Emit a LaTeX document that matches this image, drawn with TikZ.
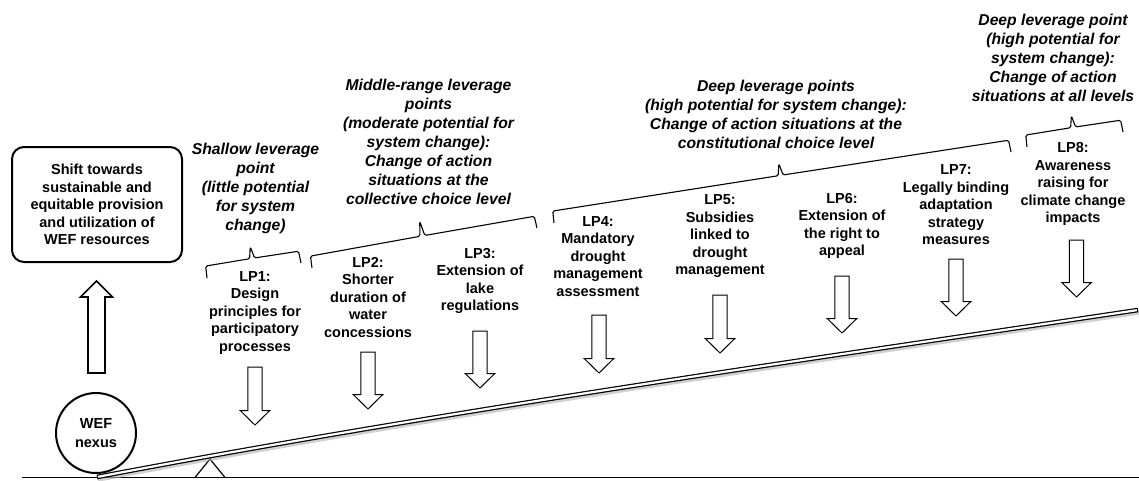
\documentclass[tikz,border=0pt]{standalone}
\usepackage{fontspec}
\setmainfont{Liberation Sans}
\usetikzlibrary{calc}

\tikzset{
  lvtext/.style={font=\fontsize{15.7}{19}\selectfont\bfseries\itshape, align=center, inner sep=0pt},
  lptext/.style={font=\fontsize{14.5}{17.5}\selectfont\bfseries, align=center, inner sep=0pt},
  blockarrow/.style={draw=black, line width=1pt, fill=white, line join=miter},
  bracepath/.style={draw=black, line width=1.1pt, rounded corners=1.5pt},
}

% downward block arrow: centre x, top y, tip y
\newcommand\dnarrow[3]{%
  \draw[blockarrow] ({#1-7.2},#2) -- ({#1+7.2},#2) -- ({#1+7.2},{#3-14.5})
    -- ({#1+14.8},{#3-14.5}) -- (#1,#3) -- ({#1-14.8},{#3-14.5})
    -- ({#1-7.2},{#3-14.5}) -- cycle;}

% curly brace along the lever: left end x, y, angle, length, tip height
\newcommand\levbrace[5]{%
  \begin{scope}[shift={(#1,#2)}, rotate=#3]
    \draw[bracepath] (0,0) -- (0.6,-12) -- ({#4/2-2.5},-12.3) -- ({#4/2},-#5)
      -- ({#4/2+2.5},-12.3) -- ({#4-0.6},-12) -- (#4,0);
  \end{scope}}

\def\plankpath{(97,477) .. controls (444,411) and (791,362) .. (1138,310)}

\begin{document}
\begin{tikzpicture}[x=1pt,y=-1pt]
\useasboundingbox[fill=white] (0,0) rectangle (1139,480);

% ground
\draw[line width=1.6pt] (22,477.5) -- (1139,477.5);

% fulcrum
\draw[line width=1.2pt, line join=miter] (195,477.5) -- (210,459) -- (225,477.5);

% lever plank with its shadow
\begin{scope}[shift={(1,3)}]
  \draw[black!30, line width=3.5pt, opacity=0.6] \plankpath;
\end{scope}
\draw[line width=4.6pt] \plankpath;
\draw[white, line width=2.2pt, shorten <=1.2pt, shorten >=1.2pt] \plankpath;

% the WEF nexus on the lever
\node[circle, draw, line width=2pt, fill=white, minimum size=80pt, inner sep=0pt,
      font=\fontsize{14.5}{18.5}\selectfont\bfseries, align=center] (wef) at (96,433) {WEF\\nexus};

% goal box and upward arrow
\node[draw, rounded corners=12pt, line width=2pt, minimum width=170pt, minimum height=115pt,
      lptext] (goal) at (97,204.5) {Shift towards\\sustainable and\\equitable provision\\and utilization of\\WEF resources};
\draw[blockarrow, line width=1.6pt] (88,373) -- (105,373) -- (105,297) -- (112.5,297)
  -- (96.5,281) -- (80.5,297) -- (88,297) -- cycle;

% leverage point arrows
\dnarrow{255}{367}{425}
\dnarrow{368}{352}{409}
\dnarrow{480}{331}{388}
\dnarrow{599}{315}{373}
\dnarrow{720}{295}{353}
\dnarrow{842}{276}{333}
\dnarrow{956}{259}{316}
\dnarrow{1076.5}{240}{297}

% braces grouping the leverage points
\levbrace{207}{278}{9.07}{95.2}{24}
\levbrace{312}{268}{10.08}{228.5}{27}
\levbrace{554}{223}{8.83}{462.5}{24}
\levbrace{1027}{147}{8.88}{97.2}{24}

% group headings
\node[lvtext] (shallow) at (255.5,188.5) {Shallow leverage\\point\\(little potential\\for system\\change)};
\node[lvtext] (middle) at (428.5,142) {Middle-range leverage\\points\\(moderate potential for\\system change):\\Change of action\\situations at the\\collective choice level};
\node[lvtext] (deep) at (776,114.5) {Deep leverage points\\(high potential for system change):\\Change of action situations at the\\constitutional choice level};
\node[lvtext] (deepall) at (1053,57.5) {Deep leverage point\\(high potential for\\system change):\\Change of action\\situations at all levels};

% leverage points
\node[lptext] (lp1) at (255,313) {LP1:\\Design\\principles for\\participatory\\processes};
\node[lptext] (lp2) at (368,297.5) {LP2:\\Shorter\\duration of\\water\\concessions};
\node[lptext] (lp3) at (480,281) {LP3:\\Extension of\\lake\\regulations};
\node[lptext] (lp4) at (598,256.5) {LP4:\\Mandatory\\drought\\management\\assessment};
\node[lptext] (lp5) at (720,236.5) {LP5:\\Subsidies\\linked to\\drought\\management};
\node[lptext] (lp6) at (842,226) {LP6:\\Extension of\\the right to\\appeal};
\node[lptext] (lp7) at (956,205) {LP7:\\Legally binding\\adaptation\\strategy\\measures};
\node[lptext] (lp8) at (1073,184) {LP8:\\Awareness\\raising for\\climate change\\impacts};
\end{tikzpicture}
\end{document}
